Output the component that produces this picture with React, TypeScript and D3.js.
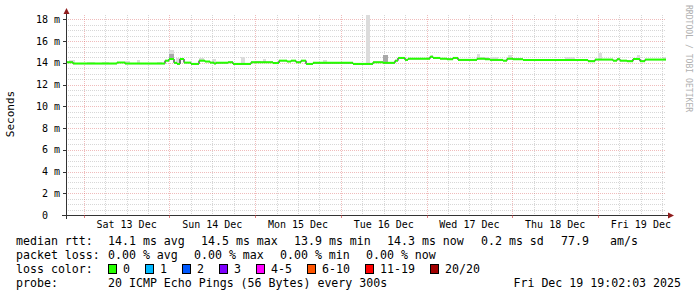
import React from "react";
import * as d3 from "d3";

// ---- data ----
const START_MS = Date.UTC(2025, 11, 12, 19, 2, 3);
const SPAN_HOURS = 168;

// median rtt (ms) as step changes: start hour of each step and value
const medianHours = [
  0, 1.96, 14.28, 16.52, 27.72, 28.84, 30.24, 31.08, 31.92, 33.04, 35.0, 37.24, 38.92, 40.32,
  41.44, 42.0, 45.36, 46.76, 51.8, 57.96, 59.64, 61.88, 63.0, 64.4, 65.8, 67.2, 69.16, 80.36,
  85.96, 88.76, 92.12, 92.96, 94.92, 95.76, 101.92, 102.76, 104.72, 106.68, 108.36, 109.76,
  115.08, 117.32, 118.72, 122.36, 123.48, 125.16, 127.96, 146.16, 148.12, 153.16, 154.28,
  155.12, 157.08, 158.76, 160.72, 162.12,
];
const medianValues = [
  14.05, 13.93, 14.03, 13.93, 14.2, 14.35, 14.0, 13.9, 14.35, 14.02, 13.9, 14.2, 14.12, 14.02,
  13.93, 14.01, 14.05, 13.9, 14.05, 13.98, 14.2, 14.12, 14.2, 14.05, 14.2, 13.9, 14.0, 13.9,
  14.05, 14.0, 14.2, 14.45, 14.27, 14.38, 14.56, 14.45, 14.38, 14.33, 14.45, 14.27, 14.38,
  14.33, 14.27, 14.2, 14.38, 14.33, 14.27, 14.15, 14.3, 14.2, 14.33, 14.2, 14.15, 14.35, 14.15,
  14.3,
];

// smoke (ping spread) spans: start/end hour, top of spread, top of darker core (0 = none)
const smokeStart = [
  0.84, 5.88, 10.08, 16.52, 19.88, 25.48, 28.84, 30.8, 37.24, 40.88, 42.84, 49.0, 53.2, 55.16,
  71.96, 84.0, 88.76, 98.28, 102.2, 115.08, 115.92, 118.72, 123.76, 139.72, 148.96, 159.88,
  167.16,
];
const smokeEnd = [
  2.52, 8.12, 12.04, 17.92, 20.72, 26.88, 30.24, 32.2, 38.64, 42.0, 44.8, 50.12, 54.6, 56.0,
  73.08, 85.12, 90.16, 99.12, 102.76, 115.92, 118.16, 120.96, 124.88, 142.52, 150.08, 160.72,
  168.0,
];
const smokeTop = [
  14.26, 14.07, 14.07, 14.17, 14.26, 14.07, 15.2, 14.4, 14.4, 14.32, 14.07, 14.5, 14.2, 14.33,
  14.26, 18.4, 14.75, 14.45, 14.7, 14.8, 14.5, 14.5, 14.7, 14.5, 14.93, 14.7, 14.5,
];
const smokeDark = [
  0, 0, 0, 0, 0, 0, 14.8, 0, 0, 0, 0, 0, 0, 0, 0, 0, 14.7, 0, 0, 0, 0, 0, 0, 0, 0, 0, 0,
];

const yMajorTicks = [0, 2, 4, 6, 8, 10, 12, 14, 16, 18];
const yLabel = "Seconds";

const rttLabels = ["median rtt:", "14.1 ms avg", "14.5 ms max", "13.9 ms min", "14.3 ms now", "0.2 ms sd", "77.9", "am/s"];
const lossLabels = ["packet loss:", "0.00 % avg", "0.00 % max", "0.00 % min", "0.00 % now"];
const lossColorNames = ["0", "1", "2", "3", "4-5", "6-10", "11-19", "20/20"];
const lossColors = ["#26ff00", "#00b8ff", "#0059ff", "#7e00ff", "#ff00ff", "#ff5500", "#ff0000", "#a10000"];
const probeText = "20 ICMP Echo Pings (56 Bytes) every 300s";
const dateText = "Fri Dec 19 19:02:03 2025";
const watermark = "RRDTOOL / TOBI OETIKER";

// ---- layout ----
const W = 697;
const H = 297;
const X0 = 66;
const X1 = 666;
const YB = 215;
const YT = 15;
const MONO = "'DejaVu Sans Mono', monospace";

export default function App() {
  const hour = 3600 * 1000;
  const t0 = new Date(START_MS);
  const t1 = new Date(START_MS + SPAN_HOURS * hour);
  const x = d3.scaleUtc().domain([t0, t1]).range([X0, X1]);
  const y = d3.scaleLinear().domain([0, 18.4]).range([YB, YT]);
  const th = (h: number) => new Date(START_MS + h * hour);
  const px = (h: number) => x(th(h));

  const midnights = d3.utcDay.range(t0, t1);
  const sixHours = d3.utcHour.every(6)!.range(t0, t1).filter((d) => d.getUTCHours() !== 0);
  const noons = midnights.map((d) => new Date(+d + 12 * hour)).filter((d) => d < t1);
  const fmt = d3.utcFormat("%a %d %b");

  const minorY = d3.range(0.5, 18.4, 0.5).filter((v) => Math.abs(v % 2) > 1e-9);
  const crisp = (v: number) => Math.round(v) + 0.5;

  const segs = medianHours.map((h, i) => ({
    h0: h,
    h1: i + 1 < medianHours.length ? medianHours[i + 1] : SPAN_HOURS,
    v: medianValues[i],
  }));
  const stepPts: [number, number][] = segs.map((s) => [px(s.h0), y(s.v)]);
  stepPts.push([px(SPAN_HOURS), y(segs[segs.length - 1].v)]);
  const stepLine = d3.line().curve(d3.curveStepAfter)(stepPts) || "";

  const medianAt = (h: number) => {
    const s = segs.find((sg) => h >= sg.h0 && h < sg.h1) || segs[segs.length - 1];
    return s.v;
  };

  // loss legend sequential layout
  let bx = 108;
  const lossItems = lossColorNames.map((name, i) => {
    const item = { name, color: lossColors[i], bx, lx: bx + 15 };
    bx = bx + 15 + 7 * name.length + 15;
    return item;
  });

  const rttX = [16, 108, 201, 294, 387, 481, 561, 610];
  const lossX = [16, 108, 194, 280, 366];

  return (
    <svg width={W} height={H} style={{ display: "block", position: "absolute", left: 0, top: 0, background: "#fff" }}>
      <rect x={0} y={0} width={W} height={H} fill="#ffffff" />
      {/* minor grid */}
      <g stroke="rgba(140,140,140,0.35)" strokeDasharray="1,1" shapeRendering="crispEdges">
        {minorY.map((v) => (
          <line key={"my" + v} x1={X0} x2={X1} y1={crisp(y(v))} y2={crisp(y(v))} />
        ))}
        {sixHours.map((d) => (
          <line key={"mx" + +d} x1={crisp(x(d))} x2={crisp(x(d))} y1={YT} y2={YB} />
        ))}
      </g>
      {/* major grid */}
      <g stroke="rgba(215,80,80,0.38)" strokeDasharray="1,1" shapeRendering="crispEdges">
        {yMajorTicks.filter((v) => v > 0).map((v) => (
          <line key={"My" + v} x1={X0} x2={X1} y1={crisp(y(v))} y2={crisp(y(v))} />
        ))}
        {midnights.map((d) => (
          <line key={"Mx" + +d} x1={crisp(x(d))} x2={crisp(x(d))} y1={YT} y2={YB} />
        ))}
      </g>
      {/* smoke */}
      <g shapeRendering="crispEdges">
        {smokeStart.map((h, i) => {
          const base = medianAt((h + smokeEnd[i]) / 2) - 0.05;
          const xa = Math.round(px(h));
          const xb = Math.max(xa + 1, Math.round(px(smokeEnd[i])));
          return (
            <g key={"s" + i}>
              <rect x={xa} width={xb - xa} y={y(smokeTop[i])} height={y(base) - y(smokeTop[i])} fill="#dcdcdc" />
              {smokeDark[i] > 0 && (
                <rect x={xa} width={xb - xa} y={y(smokeDark[i])} height={y(base) - y(smokeDark[i])} fill="#a8a8a8" />
              )}
            </g>
          );
        })}
      </g>
      {/* median */}
      <path d={stepLine} fill="none" stroke="#000" strokeWidth={1} />
      <g stroke={lossColors[0]} strokeWidth={2}>
        {segs.map((s, i) => (
          <line key={"g" + i} x1={px(s.h0)} x2={px(s.h1)} y1={y(s.v)} y2={y(s.v)} />
        ))}
      </g>
      {/* axes */}
      <g stroke="#333" shapeRendering="crispEdges">
        <line x1={62} x2={668} y1={YB + 0.5} y2={YB + 0.5} />
        <line x1={X0 + 0.5} x2={X0 + 0.5} y1={12} y2={219} />
        {yMajorTicks.map((v) => (
          <line key={"ty" + v} x1={63} x2={X0} y1={crisp(y(v))} y2={crisp(y(v))} />
        ))}
        {midnights.map((d) => (
          <line key={"tx" + +d} x1={crisp(x(d))} x2={crisp(x(d))} y1={YB} y2={YB + 3} stroke="rgba(200,50,50,0.6)" />
        ))}
      </g>
      <path d={`M${X0 + 0.5},8 L${X0 + 3.5},14 L${X0 - 2.5},14 Z`} fill="#8f1d1d" />
      <path d={`M674,${YB + 0.5} L668,${YB - 2.5} L668,${YB + 3.5} Z`} fill="#8f1d1d" />
      {/* y labels */}
      <g fontFamily={MONO} fontSize={10} fill="#000">
        {yMajorTicks.map((v) => (
          <text key={"yl" + v} x={60} y={y(v) + 3.6} textAnchor="end" style={{ whiteSpace: "pre" }}>
            {v === 0 ? "0\u00a0\u00a0" : `${v} m`}
          </text>
        ))}
        {noons.map((d) => (
          <text key={"xl" + +d} x={x(d)} y={228} textAnchor="middle">
            {fmt(d)}
          </text>
        ))}
      </g>
      <text
        x={0}
        y={0}
        transform={`translate(14,114) rotate(-90)`}
        textAnchor="middle"
        fontFamily={MONO}
        fontSize={11}
        fill="#000"
      >
        {yLabel}
      </text>
      <text
        transform="translate(686,5) rotate(90)"
        fontFamily={MONO}
        fontSize={8.1}
        fill="#b0b0b0"
        style={{ whiteSpace: "pre" }}
      >
        {watermark}
      </text>
      {/* legend */}
      <g fontFamily={MONO} fontSize={11.6} fill="#000" style={{ whiteSpace: "pre" }}>
        {rttLabels.map((t, i) => (
          <text key={"r" + i} x={rttX[i]} y={245}>
            {t}
          </text>
        ))}
        {lossLabels.map((t, i) => (
          <text key={"l" + i} x={lossX[i]} y={259}>
            {t}
          </text>
        ))}
        <text x={16} y={273}>loss color:</text>
        {lossItems.map((it) => (
          <g key={"c" + it.name}>
            <rect x={it.bx + 0.5} y={264.5} width={8} height={9} fill={it.color} stroke="#000" strokeWidth={1} shapeRendering="crispEdges" />
            <text x={it.lx} y={273}>
              {it.name}
            </text>
          </g>
        ))}
        <text x={16} y={287}>probe:</text>
        <text x={108} y={287}>{probeText}</text>
        <text x={681} y={287} textAnchor="end">
          {dateText}
        </text>
      </g>
    </svg>
  );
}
